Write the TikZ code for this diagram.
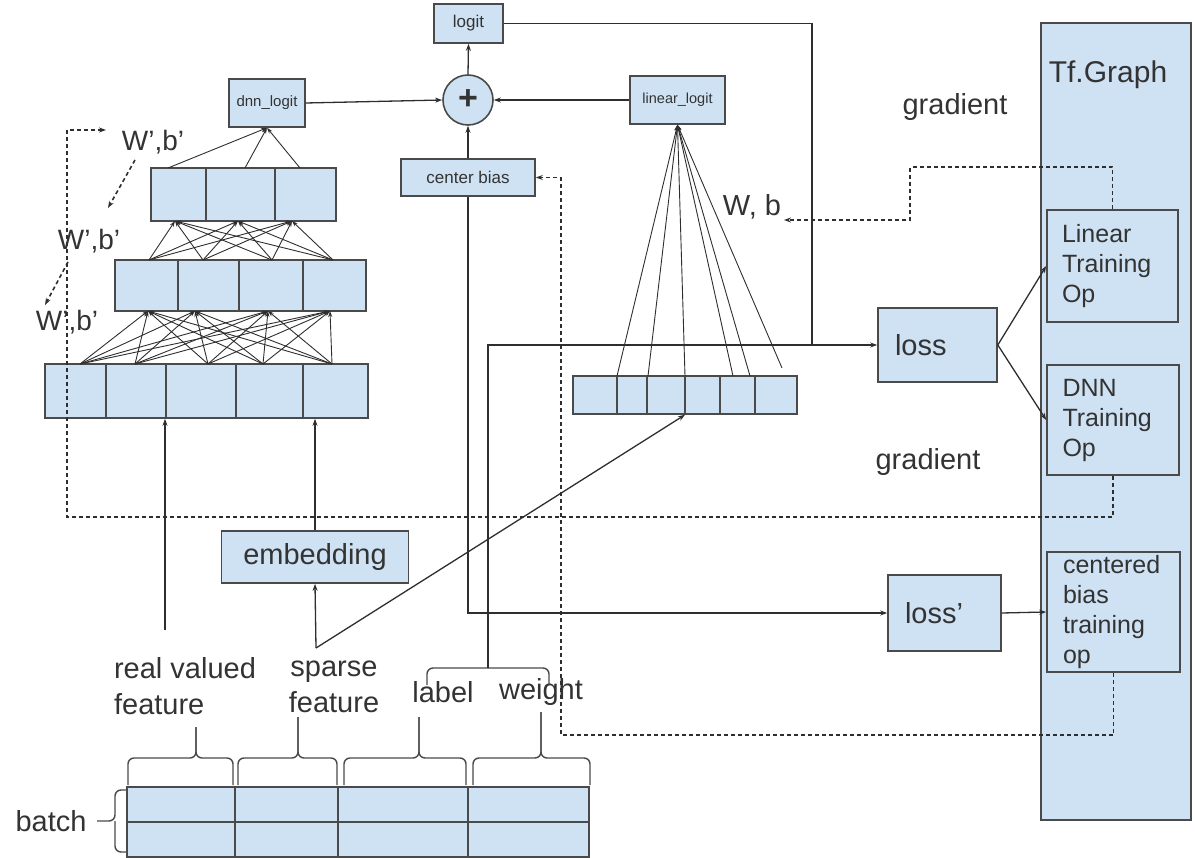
\documentclass[tikz,border=0pt]{standalone}
\usepackage{fontspec}
\setmainfont{Liberation Sans}
\usetikzlibrary{arrows.meta}
\definecolor{boxfill}{HTML}{CFE2F3}
\definecolor{boxline}{HTML}{4A4A4A}
\definecolor{ink}{HTML}{2E2E2E}
\definecolor{txt}{HTML}{333333}
\newcommand{\fsz}[2]{\fontsize{#1}{#2}\selectfont}
% upward curly brace: left x, right x, tip x, bar y, tip y
\newcommand{\upbrace}[5]{%
  \draw[brc] (#1,785) -- (#1,#4) -- (#3,#4) -- (#3,#5);
  \draw[brc] (#2,785) -- (#2,#4) -- (#3,#4) -- (#3,#5);}
\begin{document}
\begin{tikzpicture}[x=1pt,y=-1pt,
  box/.style={draw=boxline, fill=boxfill, line width=1.6pt, inner sep=0pt, text=txt},
  cell/.style={draw=boxline, line width=1.6pt},
  conn/.style={draw=ink, line width=1.3pt},
  arr/.style={conn, -{Stealth[length=7pt,width=5pt]}},
  thinarr/.style={draw=ink, line width=0.9pt, -{Stealth[length=6pt,width=4pt]}},
  dsh/.style={draw=ink, line width=1.6pt, dash pattern=on 4pt off 3pt},
  darr/.style={dsh, -{Stealth[length=7pt,width=5pt]}},
  brc/.style={draw=boxline, line width=1.4pt, rounded corners=6pt},
  lbl/.style={text=txt, inner sep=0pt, font=\fsz{29}{36}},
]
\useasboundingbox (0,0) rectangle (1195,858);

% ---------- Tf.Graph column ----------
\node[box, minimum width=150pt, minimum height=797pt] (tfg) at (1116,421.5) {};
\node[lbl, font=\fsz{30}{36}] (tfglab) at (1108,75) {Tf.Graph};
\node[box, minimum width=131pt, minimum height=112pt, text width=101pt, align=left, font=\fsz{25}{30}] (linop) at (1112.5,266) {Linear\\Training\\Op};
\node[box, minimum width=132pt, minimum height=110pt, text width=101pt, align=left, font=\fsz{25}{30}] (dnnop) at (1113,420) {DNN\\Training\\Op};
\node[box, minimum width=133pt, minimum height=120pt, text width=101pt, align=left, font=\fsz{25}{30}] (cbop) at (1113.5,612) {centered\\bias\\training\\op};

% ---------- losses ----------
\node[box, minimum width=119pt, minimum height=74pt, text width=85pt, align=left, font=\fsz{29}{34}] (loss) at (937.5,345) {loss};
\node[box, minimum width=113pt, minimum height=76pt, text width=79pt, align=left, font=\fsz{29}{34}] (lossp) at (944.5,613) {loss'};

% ---------- logits ----------
\node[box, minimum width=69pt, minimum height=39pt, font=\fsz{17}{20}] (logit) at (468.5,23.5) {logit};
\node[box, circle, minimum size=50pt, font=\fsz{34}{34}\bfseries] (plus) at (468,100) {+};
\node[box, minimum width=76pt, minimum height=48pt, font=\fsz{15}{18}] (dnnlogit) at (267,103) {dnn\_logit};
\node[box, minimum width=95pt, minimum height=48pt, font=\fsz{14.5}{18}] (linlogit) at (677.5,100) {linear\_logit};
\node[box, minimum width=134pt, minimum height=37pt, font=\fsz{17}{20}] (cbias) at (468,177.5) {center bias};

% ---------- DNN layers ----------
\node[box, minimum width=185pt, minimum height=53pt] (l3) at (243.5,194.5) {};
\node[box, minimum width=251pt, minimum height=51pt] (l2) at (240.5,285.5) {};
\node[box, minimum width=323pt, minimum height=54pt] (l1) at (206.5,391) {};
\foreach \x in {206,275} \draw[cell] (\x,168) -- (\x,221);
\foreach \x in {178,239,303} \draw[cell] (\x,260) -- (\x,311);
\foreach \x in {106,166,236,303} \draw[cell] (\x,364) -- (\x,418);

% ---------- linear feature layer ----------
\node[box, minimum width=224pt, minimum height=38pt] (lin) at (685,395) {};
\foreach \x in {617,647,685,720,755} \draw[cell] (\x,376) -- (\x,414);

% ---------- embedding ----------
\node[box, minimum width=187pt, minimum height=52pt, font=\fsz{29}{34}] (emb) at (315,557) {embedding};

% ---------- batch table ----------
\node[box, minimum width=462pt, minimum height=70pt] (batch) at (358,822) {};
\draw[cell] (127,822) -- (589,822);
\foreach \x in {235,338,468} \draw[cell] (\x,787) -- (\x,857);

% ---------- text labels ----------
\node[lbl, align=left] (rvlab) at (185,686) {real valued\\feature};
\node[lbl, align=center] (splab) at (334,687) {sparse\\feature};
\node[lbl] (lablab) at (443,692) {label};
\node[lbl] (wlab) at (541,692) {weight};
\node[lbl] (batchlab) at (51,821) {batch};
\node[lbl] (wblab) at (752,207) {W, b};
\node[lbl, font=\fsz{28}{30}] (wb1) at (153,142) {W',b'};
\node[lbl, font=\fsz{28}{30}] (wb2) at (89,241) {W',b'};
\node[lbl, font=\fsz{28}{30}] (wb3) at (67,322) {W',b'};
\node[lbl] (grad1) at (955,107) {gradient};
\node[lbl] (grad2) at (928,462) {gradient};

% ---------- braces ----------
\upbrace{128}{233}{196}{758}{727}
\upbrace{238}{337}{298}{758}{717}
\upbrace{344}{466}{419}{758}{717}
\upbrace{473}{590}{541}{758}{712}
\coordinate (lwtip) at (488,668);
\draw[brc] (427,685) -- (427,668) -- (lwtip);
\draw[brc] (549,685) -- (549,668) -- (lwtip);
\draw[brc] (127,790) -- (115,790) -- (115,821) -- (97,821);
\draw[brc] (127,852) -- (115,852) -- (115,821);

% ---------- DNN connections ----------
\foreach \i/\x in {1/80,2/135,3/208,4/263,5/332} \coordinate (a\i) at (\x,364);
\foreach \j/\x in {1/148,2/195,3/268,4/330} \coordinate (b\j) at (\x,311);
\foreach \i/\x in {1/149,2/203,3/272,4/333} \coordinate (c\i) at (\x,260);
\foreach \j/\x in {1/175,2/238,3/292} \coordinate (d\j) at (\x,221);
\foreach \i/\x in {1/168,2/245,3/300} \coordinate (e\i) at (\x,168);
\foreach \i in {1,...,5} \foreach \j in {1,...,4} \draw[thinarr] (a\i) -- (b\j);
\foreach \i in {1,...,4} \foreach \j in {1,...,3} \draw[thinarr] (c\i) -- (d\j);
\foreach \i in {1,...,3} \draw[thinarr] (e\i) -- (dnnlogit.south);

% ---------- linear connections ----------
\foreach \i/\x/\y in {1/617/376,2/648/376,3/685/376,4/733/376,5/750/376,6/782/368}
  \coordinate (f\i) at (\x,\y);
\foreach \i in {1,...,6} \draw[thinarr] (f\i) -- (linlogit.south);

% ---------- inputs ----------
\coordinate (rvtop) at (165,630);
\coordinate (sptop) at (316,648);
\draw[arr] (rvtop) -- (rvtop |- l1.south);
\draw[arr] (sptop) -- (emb.south);
\draw[arr] (emb.north) -- (emb.north |- l1.south);
\draw[arr] (sptop) -- (lin.south);

% ---------- logit combination ----------
\draw[arr] (dnnlogit.east) -- (plus.west);
\draw[arr] (linlogit.west) -- (plus.east);
\draw[arr] (cbias.north) -- (plus.south);
\draw[arr] (plus.north) -- (logit.south);

% ---------- losses ----------
\coordinate (join) at (812,345);
\draw[conn] (logit.east) -| (join);
\draw[arr] (lwtip) -- (488,345) -- (loss.west);
\draw[arr] (cbias.south) |- (lossp.west);
\draw[arr] (loss.east) -- (linop.west);
\draw[arr] (loss.east) -- (dnnop.west);
\draw[arr] (lossp.east) -- (cbop.west);

% ---------- gradient feedback ----------
\coordinate (wbtip) at (784,220);
\draw[darr] (linop.north) -- ++(0,-42) -| (910,220) -- (wbtip);
\coordinate (wtip) at (106,130);
\draw[darr] (dnnop.south) |- (67,517) -- (67,130) -- (wtip);
\draw[darr] (cbop.south) |- (561,735) -- (561,177.5) -- (cbias.east);
\draw[darr] (135,160) -- (108,208);
\draw[darr] (68,262) -- (45,305);
\end{tikzpicture}
\end{document}
